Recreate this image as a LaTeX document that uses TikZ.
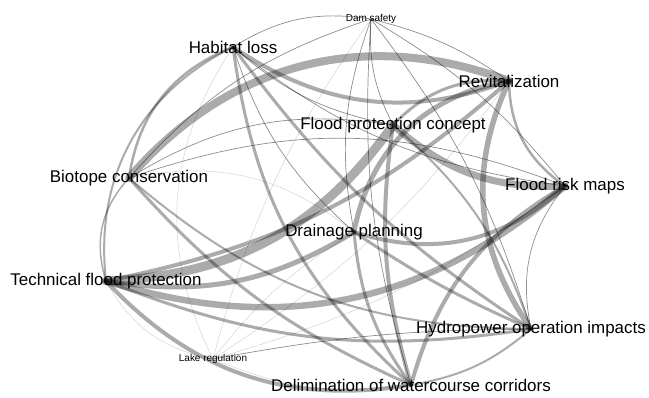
\documentclass[tikz,border=0pt]{standalone}
\usepackage{fontspec}
\setmainfont{Liberation Sans}
\usetikzlibrary{backgrounds}

\tikzset{
  topic/.style={font=\fontsize{17}{17}\selectfont, inner sep=0pt},
  minortopic/.style={font=\fontsize{10}{10}\selectfont, inner sep=0pt},
  link/.style={draw=black, opacity=0.33, line cap=round},
  weaklink/.style={draw=black, opacity=0.45, line width=0.7bp},
  faintlink/.style={draw=black, opacity=0.15, line width=0.6bp},
}

\begin{document}
\begin{tikzpicture}[x=1bp, y=-1bp]
  \useasboundingbox (0,0) rectangle (649,397);

  % Define topics

  \node[minortopic] (dam) at (371,19) {Dam safety};
  \node[topic] (hab) at (233,47) {Habitat loss};
  \node[topic] (rev) at (509,81) {Revitalization};
  \node[topic] (fpc) at (393,125) {Flood protection concept};
  \node[topic] (bio) at (129,178) {Biotope conservation};
  \node[topic] (frm) at (565,186) {Flood risk maps};
  \node[topic] (drn) at (354,232) {Drainage planning};
  \node[topic] (tfp) at (106,281) {Technical flood protection};
  \node[topic] (hyd) at (531,329) {Hydropower operation impacts};
  \node[minortopic] (lak) at (213,359) {Lake regulation};
  \node[topic] (del) at (411,385) {Delimination of watercourse corridors};

  % Connect the topics
  \begin{scope}[on background layer]
    \draw[link, line width=8bp] (bio.center) to[bend left=35] (rev.center);
    \draw[link, line width=9bp] (tfp.center) to[bend right=26] (fpc.center);
    \draw[link, line width=7bp] (fpc.center) to[bend right=22] (frm.center);
    \draw[link, line width=6.5bp] (tfp.center) to[bend right=29] (frm.center);
    \draw[link, line width=5bp] (drn.center) to[bend left=35] (rev.center);
    \draw[link, line width=5.5bp] (rev.center) to[bend right=30] (hyd.center);
    \draw[link, line width=4bp] (hab.center) to[bend right=27] (rev.center);
    \draw[link, line width=5bp] (tfp.center) to[bend right=20] (drn.center);
    \draw[link, line width=4bp] (drn.center) to[bend right=30] (frm.center);
    \draw[link, line width=4bp] (frm.center) to[bend right=22] (del.center);
    \draw[link, line width=4bp] (fpc.center) to[bend right=12] (del.center);
    \draw[link, line width=4bp] (tfp.center) to[bend right=28] (del.center);
    \draw[link, line width=4bp] (tfp.center) to[bend right=15] (rev.center);
    \draw[link, line width=3bp] (hab.center) to[bend right=10] (hyd.center);
    \draw[link, line width=3bp] (hab.center) to[bend right=20] (del.center);
    \draw[link, line width=3bp] (bio.center) to[bend right=12] (del.center);
    \draw[link, line width=3bp] (drn.center) to[bend right=15] (del.center);
    \draw[link, line width=3bp] (drn.center) to[bend right=5] (hyd.center);
    \draw[link, line width=3bp] (tfp.center) to[bend right=15] (hyd.center);
    \draw[link, line width=2.5bp] (hab.center) to[bend right=30] (bio.center);
    \draw[link, line width=3bp] (fpc.center) to[bend left=25] (rev.center);
    \draw[link, line width=2.5bp] (rev.center) to[bend right=27] (frm.center);
    \draw[link, line width=2bp] (hyd.center) to[bend left=15] (del.center);
    \draw[link, line width=2bp] (bio.center) to[bend right=20] (hyd.center);
    \draw[link, line width=2bp] (fpc.center) to[bend left=15] (hyd.center);
    \draw[link, line width=2bp] (hab.center) to[bend right=35] (tfp.center);
    \draw[link, line width=1.5bp] (bio.center) to[bend right=30] (tfp.center);

    \draw[weaklink] (hab.center) to[bend left=20] (dam.center);
    \draw[weaklink] (dam.center) to[bend left=10] (rev.center);
    \draw[weaklink] (dam.center) to[bend left=10] (frm.center);
    \draw[weaklink] (dam.center) to[bend right=15] (fpc.center);
    \draw[weaklink] (dam.center) to[bend right=15] (drn.center);
    \draw[weaklink] (dam.center) to[bend right=15] (bio.center);
    \draw[weaklink] (dam.center) to[bend right=10] (del.center);
    \draw[weaklink] (dam.center) to[bend left=10] (hyd.center);
    \draw[weaklink] (frm.center) to[bend right=25] (hyd.center);
    \draw[weaklink] (hab.center) to[bend right=15] (fpc.center);
    \draw[weaklink] (hab.center) to[bend right=15] (drn.center);
    \draw[weaklink] (hab.center) to[bend right=15] (frm.center);
    \draw[weaklink] (bio.center) to[bend left=20] (frm.center);
    \draw[weaklink] (bio.center) to[bend left=20] (fpc.center);
    \draw[weaklink] (lak.center) to[bend left=5] (hyd.center);

    \draw[faintlink] (bio.center) to[bend left=25] (drn.center);
    \draw[faintlink] (hab.center) to[bend right=30] (lak.center);
    \draw[faintlink] (tfp.center) to[bend right=25] (lak.center);
    \draw[faintlink] (lak.center) to[bend right=15] (del.center);
    \draw[faintlink] (lak.center) to[bend right=10] (rev.center);
    \draw[faintlink] (lak.center) to[bend right=10] (frm.center);
    \draw[faintlink] (lak.center) to[bend left=10] (drn.center);
    \draw[faintlink] (dam.center) to[bend right=10] (lak.center);
  \end{scope}

\end{tikzpicture}
\end{document}
